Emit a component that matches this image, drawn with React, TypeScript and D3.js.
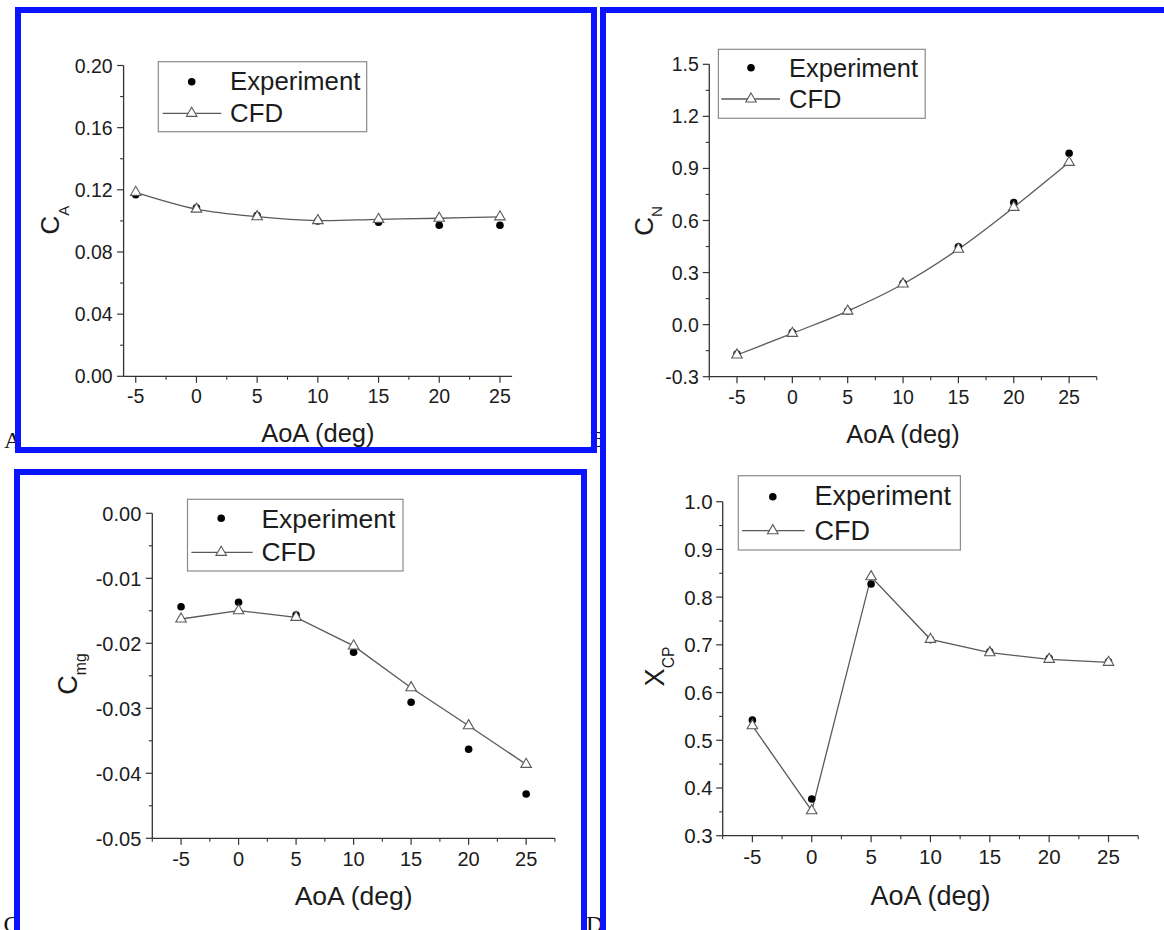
import React, { useEffect } from 'react';
import * as d3 from 'd3';

// ---------- data ----------
const aoa = [-5, 0, 5, 10, 15, 20, 25];
const xTickValues = [-5, 0, 5, 10, 15, 20, 25];

const caExperiment = [0.1168, 0.1084, 0.1035, 0.1000, 0.0992, 0.0972, 0.0972];
const caCfd = [0.1184, 0.1076, 0.1027, 0.1002, 0.1010, 0.1017, 0.1026];
const caTicks = [0, 0.04, 0.08, 0.12, 0.16, 0.2];

const cnExperiment = [-0.17, -0.045, 0.078, 0.238, 0.449, 0.704, 0.987];
const cnCfd = [-0.175, -0.05, 0.078, 0.234, 0.435, 0.676, 0.935];
const cnTicks = [-0.3, 0, 0.3, 0.6, 0.9, 1.2, 1.5];

const cmgExperiment = [-0.01437, -0.0137, -0.01565, -0.02138, -0.02908, -0.03631, -0.04318];
const cmgCfd = [-0.01626, -0.01498, -0.016, -0.0204, -0.02683, -0.03268, -0.03862];
const cmgTicks = [-0.05, -0.04, -0.03, -0.02, -0.01, 0];

const xcpExperiment = [0.5425, 0.3769, 0.8275, 0.711, 0.6856, 0.672, 0.6647];
const xcpCfd = [0.5305, 0.3523, 0.8428, 0.7116, 0.6835, 0.6697, 0.6634];
const xcpTicks = [0.3, 0.4, 0.5, 0.6, 0.7, 0.8, 0.9, 1.0];

const legendLabels = ['Experiment', 'CFD'];
const xTitle = 'AoA (deg)';
const panelLetters = ['A', 'B', 'C', 'D'];

// ---------- layout ----------
type Panel = {
  left: number; right: number; top: number; bottom: number;
  xDomain: [number, number]; yDomain: [number, number];
  yTicks: number[]; fmt: string;
  exp: number[]; cfd: number[]; smooth: boolean;
  yMain: string; ySub: string; yLabX: number; yLabY: number; yLabSize: number;
  tickSize: number; titleSize: number; titleBase: number; xLabOff: number; yLabGap: number;
  lg: { x0: number; y0: number; x1: number; y1: number; dotX: number; dotY: number; textX: number; b1: number; b2: number; l0: number; l1: number; ly: number; fs: number };
};

const panels: Panel[] = [
  {
    left: 123.6, right: 512.1, top: 65.5, bottom: 376.3,
    xDomain: [-6, 26], yDomain: [0, 0.2], yTicks: caTicks, fmt: '.2f',
    exp: caExperiment, cfd: caCfd, smooth: true,
    yMain: 'C', ySub: 'A', yLabX: 59.3, yLabY: 220, yLabSize: 26,
    tickSize: 19.5, titleSize: 25.5, titleBase: 441.7, xLabOff: 27, yLabGap: 11,
    lg: { x0: 158.3, y0: 61.7, x1: 366.7, y1: 131.7, dotX: 191.7, dotY: 81.7, textX: 230, b1: 90, b2: 121.7, l0: 162.6, l1: 221.2, ly: 113.3, fs: 25.8 },
  },
  {
    left: 709.3, right: 1096.8, top: 64.3, bottom: 376.7,
    xDomain: [-7.5, 27.5], yDomain: [-0.3, 1.5], yTicks: cnTicks, fmt: '.1f',
    exp: cnExperiment, cfd: cnCfd, smooth: true,
    yMain: 'C', ySub: 'N', yLabX: 653, yLabY: 221, yLabSize: 26,
    tickSize: 19.5, titleSize: 25.5, titleBase: 443.3, xLabOff: 27, yLabGap: 10.5,
    lg: { x0: 718.4, y0: 49.3, x1: 925.2, y1: 118.3, dotX: 751, dotY: 67.7, textX: 789.1, b1: 76.7, b2: 108.3, l0: 721.3, l1: 780, ly: 99, fs: 25.5 },
  },
  {
    left: 152.3, right: 554.9, top: 513.3, bottom: 838.3,
    xDomain: [-7.5, 27.5], yDomain: [-0.05, 0], yTicks: cmgTicks, fmt: '.2f',
    exp: cmgExperiment, cfd: cmgCfd, smooth: false,
    yMain: 'C', ySub: 'mg', yLabX: 76.5, yLabY: 674, yLabSize: 27,
    tickSize: 20, titleSize: 26.5, titleBase: 905, xLabOff: 28, yLabGap: 11,
    lg: { x0: 187.5, y0: 499.3, x1: 403, y1: 571, dotX: 221.2, dotY: 518.3, textX: 261.4, b1: 528.3, b2: 561, l0: 191.4, l1: 252.6, ly: 552.3, fs: 26.5 },
  },
  {
    left: 722.7, right: 1138.2, top: 501.7, bottom: 835.7,
    xDomain: [-7.5, 27.5], yDomain: [0.3, 1.0], yTicks: xcpTicks, fmt: '.1f',
    exp: xcpExperiment, cfd: xcpCfd, smooth: false,
    yMain: 'X', ySub: 'CP', yLabX: 663.9, yLabY: 666.5, yLabSize: 27,
    tickSize: 20.5, titleSize: 27, titleBase: 905, xLabOff: 28, yLabGap: 10,
    lg: { x0: 738.3, y0: 475.7, x1: 960.4, y1: 550, dotX: 772.8, dotY: 496.7, textX: 814.5, b1: 505, b2: 540, l0: 742, l1: 804.7, ly: 530.7, fs: 27 },
  },
];

const FONT = '"Liberation Sans", Arial, Helvetica, sans-serif';
const AXIS = '#333';
const TEXT = '#1c1c1c';
const LINE = '#5a5a5a';
const BLUE = '#0a14ff';

const triPath = d3.symbol().type(d3.symbolTriangle).size(48)() as string;

function PanelView({ p }: { p: Panel }) {
  const x = d3.scaleLinear().domain(p.xDomain).range([p.left, p.right]);
  const y = d3.scaleLinear().domain(p.yDomain).range([p.bottom, p.top]);
  const f = d3.format(p.fmt);
  const fmt = (v: number) => f(v).replace('\u2212', '-');
  const line = d3
    .line<number>()
    .x((_, i) => x(aoa[i]))
    .y((d) => y(d))
    .curve(p.smooth ? d3.curveCatmullRom.alpha(0.5) : d3.curveLinear);

  const xMinor = d3.range(-7.5, 27.6, 2.5).filter(
    (v) => v >= p.xDomain[0] - 1e-9 && v <= p.xDomain[1] + 1e-9 && !xTickValues.includes(v)
  );
  const yMinor: number[] = [];
  for (let i = 0; i < p.yTicks.length - 1; i++) yMinor.push((p.yTicks[i] + p.yTicks[i + 1]) / 2);

  const MAJ = 6.5;
  const MIN = 3.5;
  const lg = p.lg;

  return (
    <g fontFamily={FONT}>
      {/* axes */}
      <line x1={p.left} x2={p.left} y1={p.top} y2={p.bottom} stroke={AXIS} strokeWidth={1.3} />
      <line x1={p.left} x2={p.right} y1={p.bottom} y2={p.bottom} stroke={AXIS} strokeWidth={1.3} />
      {xTickValues.map((v) => (
        <g key={'xt' + v}>
          <line x1={x(v)} x2={x(v)} y1={p.bottom} y2={p.bottom + MAJ} stroke={AXIS} strokeWidth={1.2} />
          <text x={x(v)} y={p.bottom + p.xLabOff} textAnchor="middle" fontSize={p.tickSize} fill={TEXT}>
            {String(v)}
          </text>
        </g>
      ))}
      {xMinor.map((v) => (
        <line key={'xm' + v} x1={x(v)} x2={x(v)} y1={p.bottom} y2={p.bottom + MIN} stroke={AXIS} strokeWidth={1.1} />
      ))}
      {p.yTicks.map((v) => (
        <g key={'yt' + v}>
          <line x1={p.left - MAJ} x2={p.left} y1={y(v)} y2={y(v)} stroke={AXIS} strokeWidth={1.2} />
          <text x={p.left - p.yLabGap} y={y(v)} dy="0.36em" textAnchor="end" fontSize={p.tickSize} fill={TEXT}>
            {fmt(v)}
          </text>
        </g>
      ))}
      {yMinor.map((v) => (
        <line key={'ym' + v} x1={p.left - MIN} x2={p.left} y1={y(v)} y2={y(v)} stroke={AXIS} strokeWidth={1.1} />
      ))}
      {/* titles */}
      <text x={(p.left + p.right) / 2} y={p.titleBase} textAnchor="middle" fontSize={p.titleSize} fill={TEXT}>
        {xTitle}
      </text>
      <text
        transform={`translate(${p.yLabX},${p.yLabY}) rotate(-90)`}
        textAnchor="middle"
        fontSize={p.yLabSize}
        fill={TEXT}
      >
        {p.yMain}
        <tspan fontSize={p.yLabSize * 0.58} dy={p.yLabSize * 0.36}>
          {p.ySub}
        </tspan>
      </text>
      {/* data */}
      <path d={line(p.cfd) || ''} fill="none" stroke={LINE} strokeWidth={1.3} />
      {p.exp.map((v, i) => (
        <circle key={'e' + i} cx={x(aoa[i])} cy={y(v)} r={3.8} fill="#000" />
      ))}
      {p.cfd.map((v, i) => (
        <path key={'c' + i} d={triPath} transform={`translate(${x(aoa[i])},${y(v)})`} fill="#fff" stroke={LINE} strokeWidth={1.1} />
      ))}
      {/* legend */}
      <rect x={lg.x0} y={lg.y0} width={lg.x1 - lg.x0} height={lg.y1 - lg.y0} fill="#fff" stroke="#8a8a8a" strokeWidth={1.2} />
      <circle cx={lg.dotX} cy={lg.dotY} r={3.8} fill="#000" />
      <text x={lg.textX} y={lg.b1} fontSize={lg.fs} fill={TEXT}>
        {legendLabels[0]}
      </text>
      <line x1={lg.l0} x2={lg.l1} y1={lg.ly} y2={lg.ly} stroke={LINE} strokeWidth={1.3} />
      <path d={triPath} transform={`translate(${lg.dotX},${lg.ly})`} fill="#fff" stroke={LINE} strokeWidth={1.1} />
      <text x={lg.textX} y={lg.b2} fontSize={lg.fs} fill={TEXT}>
        {legendLabels[1]}
      </text>
    </g>
  );
}

export default function App() {
  useEffect(() => {
    document.body.style.margin = '0';
    document.body.style.overflow = 'hidden';
  }, []);
  return (
    <svg
      width={1164}
      height={930}
      viewBox="0 0 1164 930"
      style={{ position: 'absolute', left: 0, top: 0, background: '#fff' }}
    >
      <rect x={0} y={0} width={1164} height={930} fill="#fff" />
      {/* panel letters (partly hidden behind frames, as in the source figure) */}
      <g fontFamily='"Liberation Serif", "Times New Roman", serif' fontSize={24} fill="#111">
        <text x={4} y={448}>{panelLetters[0]}</text>
        <text x={590} y={447}>{panelLetters[1]}</text>
        <text x={3.5} y={932}>{panelLetters[2]}</text>
        <text x={586} y={932}>{panelLetters[3]}</text>
      </g>
      {panels.map((p, i) => (
        <PanelView key={i} p={p} />
      ))}
      {/* blue frames */}
      <g fill="none" stroke={BLUE} strokeWidth={6}>
        <rect x={18} y={10} width={576} height={440} />
        <rect x={603} y={10} width={700} height={1000} />
        <rect x={17} y={472} width={567} height={600} />
      </g>
    </svg>
  );
}
